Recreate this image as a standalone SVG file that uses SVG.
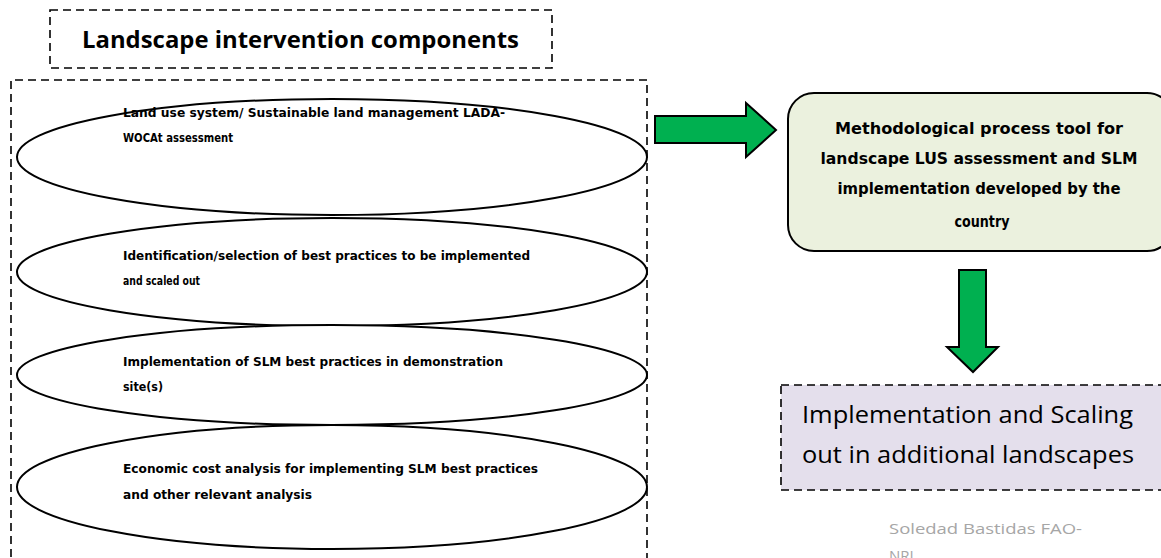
<svg xmlns="http://www.w3.org/2000/svg" width="1161" height="558" viewBox="0 0 1161 558">
  <style>
    .dash { fill: none; stroke: #000; stroke-width: 1.6; stroke-dasharray: 8 5; }
    .oval { fill: #fff; stroke: #000; stroke-width: 2; }
    .deco { font-family: "DejaVu Sans Condensed", "Liberation Sans Narrow", sans-serif; font-weight: bold; fill: #000; }
    .item { font-size: 13px; }
    .tool { font-size: 16px; }
    .green { fill: #00b050; stroke: #000; stroke-width: 2; stroke-linejoin: miter; }
  </style>

  <!-- heading -->
  <g id="heading">
    <rect class="dash" x="50" y="10" width="502" height="58"/>
    <text x="82" y="48" font-family="'Open Sans', 'Liberation Sans', sans-serif" font-weight="bold" font-size="23" textLength="437" lengthAdjust="spacingAndGlyphs">Landscape intervention components</text>
  </g>

  <!-- container of the components -->
  <g id="components">
    <path class="dash" d="M11 570 V80 H647 V570"/>
  </g>

  <g id="comp-lus">
    <ellipse class="oval" cx="332" cy="157" rx="315" ry="58"/>
    <text class="deco item" x="123" y="117" textLength="382" lengthAdjust="spacingAndGlyphs">Land use system/ Sustainable land management  LADA-</text>
    <text class="deco item" x="123" y="142" textLength="110" lengthAdjust="spacingAndGlyphs">WOCAt assessment</text>
  </g>

  <g id="comp-select">
    <ellipse class="oval" cx="332" cy="272" rx="315" ry="54"/>
    <text class="deco item" x="123" y="260" textLength="407" lengthAdjust="spacingAndGlyphs">Identification/selection of best practices to be implemented</text>
    <text class="deco item" x="123" y="285" textLength="77" lengthAdjust="spacingAndGlyphs">and scaled out</text>
  </g>

  <g id="comp-implement">
    <ellipse class="oval" cx="332" cy="375" rx="315" ry="50"/>
    <text class="deco item" x="123" y="366" textLength="380" lengthAdjust="spacingAndGlyphs">Implementation of SLM best practices in demonstration</text>
    <text class="deco item" x="123" y="391" textLength="40" lengthAdjust="spacingAndGlyphs">site(s)</text>
  </g>

  <g id="comp-economic">
    <ellipse class="oval" cx="332" cy="487" rx="315" ry="62"/>
    <text class="deco item" x="123" y="473" textLength="415" lengthAdjust="spacingAndGlyphs">Economic cost analysis for implementing SLM best practices</text>
    <text class="deco item" x="123" y="499" textLength="189" lengthAdjust="spacingAndGlyphs">and other relevant analysis</text>
  </g>

  <!-- methodological tool -->
  <g id="tool">
    <rect x="788" y="93" width="385" height="158" rx="26" ry="26" fill="#ebf1de" stroke="#000" stroke-width="2"/>
    <g class="deco tool" text-anchor="middle">
      <text x="979" y="134" textLength="288" lengthAdjust="spacingAndGlyphs">Methodological process tool for</text>
      <text x="979" y="164" textLength="317" lengthAdjust="spacingAndGlyphs">landscape LUS assessment and SLM</text>
      <text x="979" y="194" textLength="283" lengthAdjust="spacingAndGlyphs">implementation developed by the</text>
      <text x="982" y="227" textLength="55" lengthAdjust="spacingAndGlyphs">country</text>
    </g>
  </g>

  <!-- scaling out -->
  <g id="scaling">
    <rect x="781" y="385" width="400" height="105" fill="#e4dfec"/>
    <rect class="dash" x="781" y="385" width="400" height="105"/>
    <g font-family="'Open Sans', 'Liberation Sans', sans-serif" font-size="24" fill="#000">
      <text x="802" y="423" textLength="331" lengthAdjust="spacingAndGlyphs">Implementation and Scaling</text>
      <text x="802" y="463" textLength="332" lengthAdjust="spacingAndGlyphs">out in additional landscapes</text>
    </g>
  </g>

  <!-- connectors -->
  <g id="connectors">
    <path class="green" d="M655 116 H746 V103 L776 130 L746 157 V143 H655 Z"/>
    <path class="green" d="M959 270 H986 V347 H998 L973 372 L947 347 H959 Z"/>
  </g>

  <!-- credit -->
  <g id="credit" font-family="'Open Sans', 'Liberation Sans', sans-serif" font-size="15" fill="#a6a6a6">
    <text x="889" y="534" textLength="193" lengthAdjust="spacingAndGlyphs">Soledad Bastidas FAO-</text>
    <text x="889" y="561">NRL</text>
  </g>
</svg>
